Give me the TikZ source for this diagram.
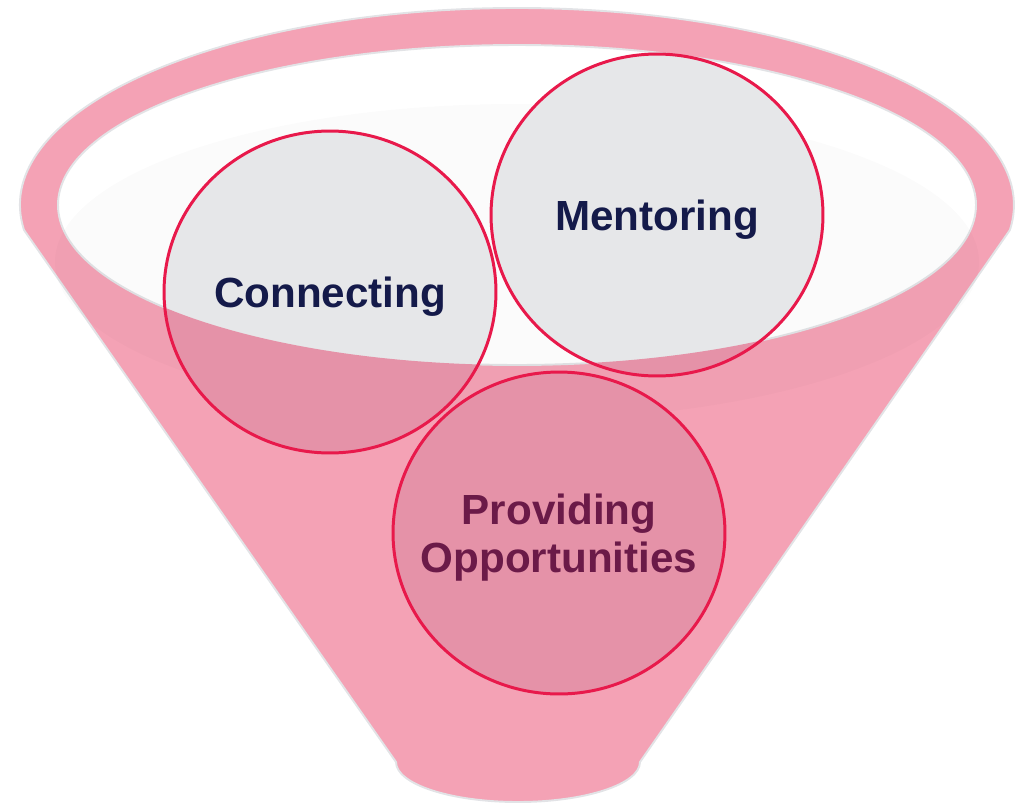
\documentclass[tikz,border=0pt]{standalone}
\usepackage{fontspec}
\setmainfont{Liberation Sans}
\usetikzlibrary{shapes.geometric}
\definecolor{funnelpink}{HTML}{F4A2B5}
\definecolor{deeppink}{HTML}{E592A8}
\definecolor{bubblegray}{HTML}{E6E7E9}
\definecolor{ringred}{HTML}{E8194B}
\definecolor{edgegray}{HTML}{E2E3E6}
\definecolor{inknavy}{HTML}{141A4A}
\definecolor{inkplum}{HTML}{6B1A48}

\begin{document}
\begin{tikzpicture}[x=0.02cm,y=0.02cm]
					\useasboundingbox (0,0) rectangle (1021,-805);
					\def\frontpath{(mouthL) arc[start angle=180,end angle=360,x radius=459,y radius=160] -- (rimE) arc[start angle=0,end angle=-7.3,x radius=497,y radius=197] -- (rimR) -- (tipR) arc[start angle=0,end angle=-180,x radius=122,y radius=40] -- (tipL) -- (rimL) arc[start angle=187.3,end angle=180,x radius=497,y radius=197] -- cycle}
					\tikzstyle{edge} = [draw=edgegray,line width=1.1pt]
					\tikzstyle{bubble} = [ellipse,fill=bubblegray,draw=ringred,line width=1.7pt,minimum width=6.64cm,minimum height=6.44cm,inner xsep=-0.6cm,inner ysep=0pt,text depth=0pt,align=center,font=\bfseries\fontsize{24}{27}\selectfont,path picture={\fill[deeppink] \frontpath;}]
					\coordinate (rimL) at (24,-230);
					\coordinate (rimR) at (1010,-230);
					\coordinate (rimE) at (1014,-205);
					\coordinate (tipL) at (396,-762);
					\coordinate (tipR) at (640,-762);
					\coordinate (mouthL) at (58,-205);
					% funnel body and its opening
					\path[fill=funnelpink,edge] (rimL) arc[start angle=187.3,end angle=-7.3,x radius=497,y radius=197] -- (tipR) arc[start angle=0,end angle=-180,x radius=122,y radius=40] -- cycle;
					\path[fill=white,edge] (517,-205) ellipse[x radius=459,y radius=160];
					\fill[black,fill opacity=0.015] (517,-262) ellipse[x radius=462,y radius=158];
					\node[bubble,text=inknavy] (connecting) at (330,-292) {Connecting};
					\node[bubble,text=inknavy] (mentoring) at (657,-215) {Mentoring};
					\node[bubble,text=inkplum] (providing) at (559,-533) {Providing\\Opportunities};
\end{tikzpicture}
\end{document}
